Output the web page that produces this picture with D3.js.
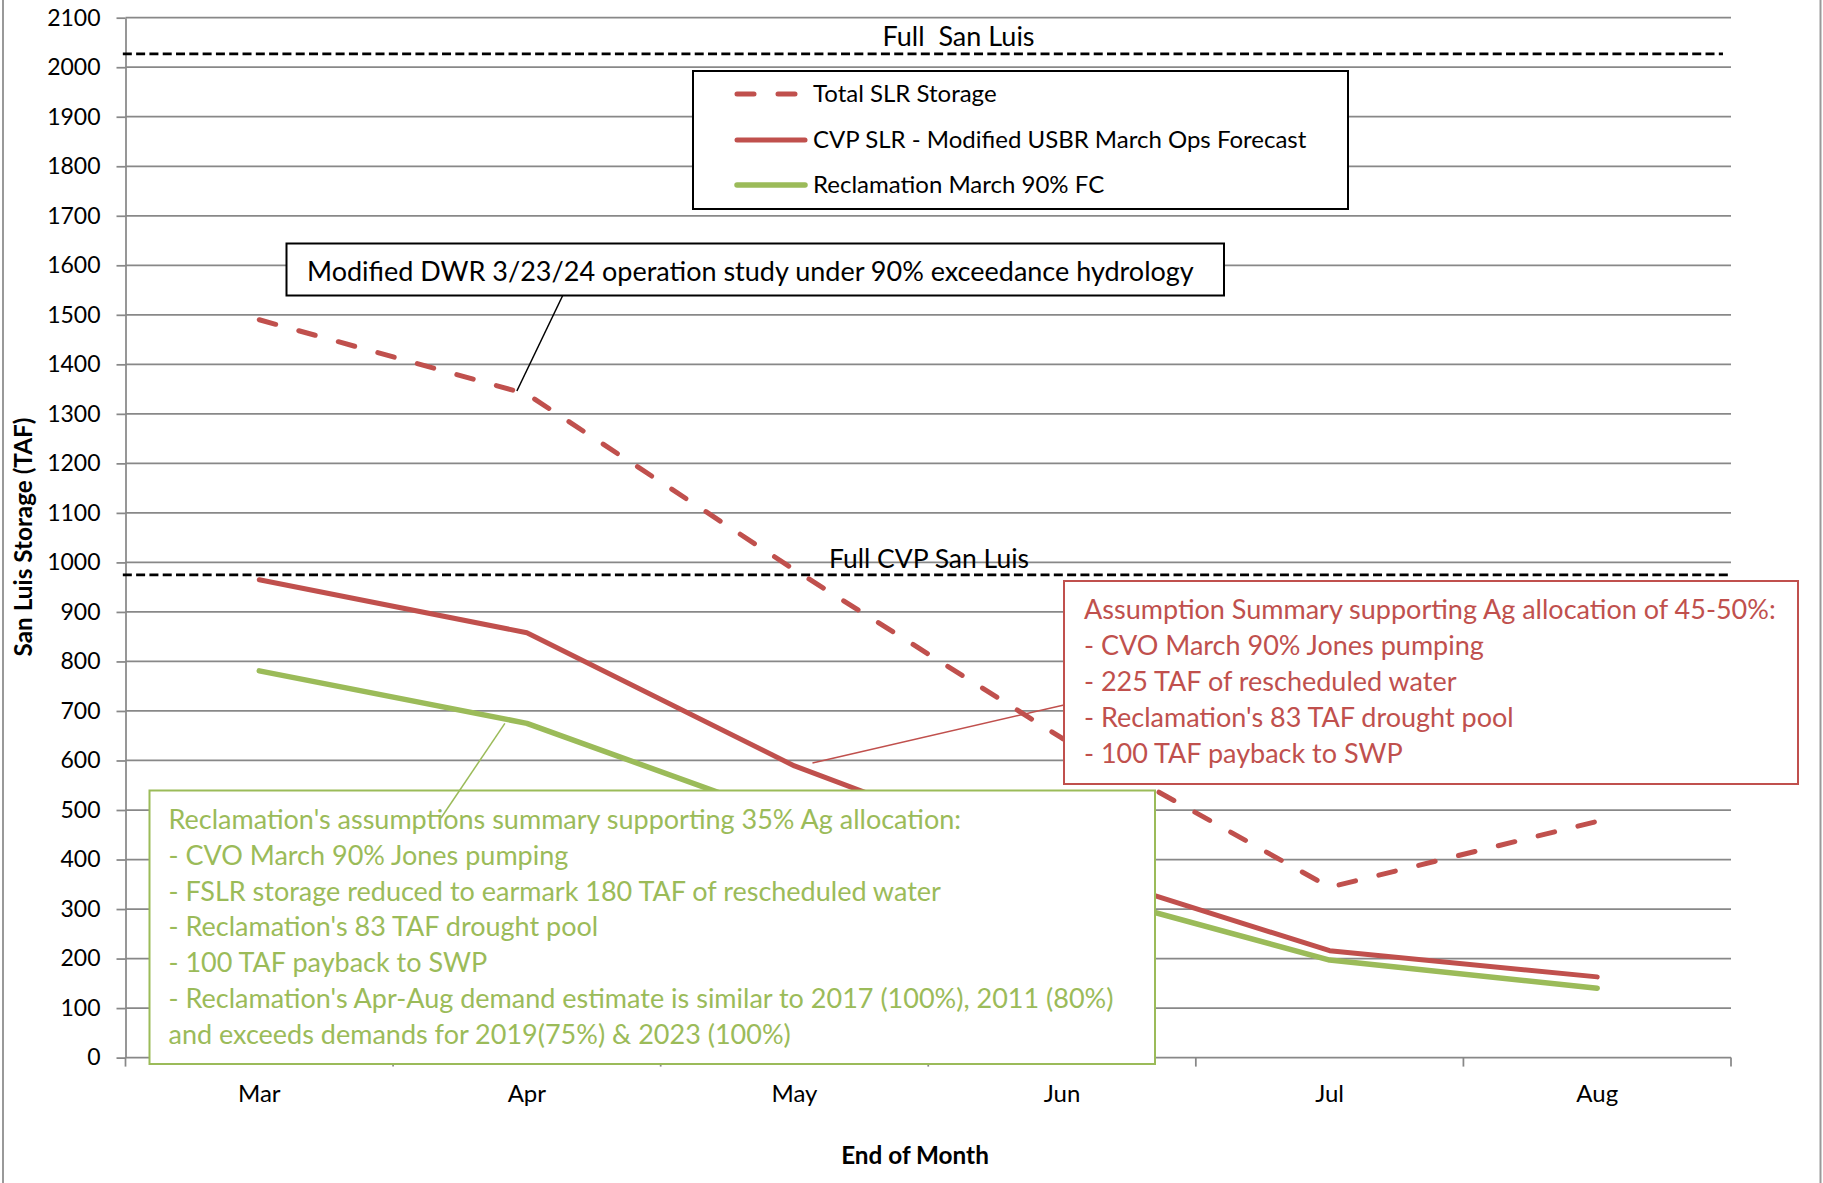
<!DOCTYPE html>
<html>
<head>
<meta charset="utf-8">
<script src="https://cdn.jsdelivr.net/npm/d3@7"></script>
<style>
  body { margin: 0; background: #fff; }
  svg text { font-family: Lato, "Open Sans", sans-serif; white-space: pre; }
</style>
</head>
<body>
<svg id="chart" width="1823" height="1183"></svg>
<script>
// data (TAF, end of month)
const months = ['Mar', 'Apr', 'May', 'Jun', 'Jul', 'Aug'];
const totalSlr = [1490, 1340, 985, 645, 344, 477];
const cvpSlr = [965, 858, 589, 386, 216, 163];
const reclamation = [781, 675, 480, 344, 197, 140];
const yTicks = d3.range(0, 2101, 100);
const fullSanLuis = 2027;
const fullCvpSanLuis = 975;

const seriesNames = ['Total SLR Storage', 'CVP SLR - Modified USBR March Ops Forecast', 'Reclamation March 90% FC'];
const noteDwr = 'Modified DWR 3/23/24 operation study under 90% exceedance hydrology';
const noteRed = [
  'Assumption Summary supporting Ag allocation of 45-50%:',
  '- CVO March 90% Jones pumping',
  '- 225 TAF of rescheduled water',
  "- Reclamation's 83 TAF drought pool",
  '- 100 TAF payback to SWP'
];
const noteGreen = [
  "Reclamation's assumptions summary supporting 35% Ag allocation:",
  '- CVO March 90% Jones pumping',
  '- FSLR storage reduced to earmark 180 TAF of rescheduled water',
  "- Reclamation's 83 TAF drought pool",
  '- 100 TAF payback to SWP',
  "- Reclamation's Apr-Aug demand estimate is similar to 2017 (100%), 2011 (80%)",
  'and exceeds demands for 2019(75%) & 2023 (100%)'
];

const RED = '#C0504D';
const GREEN = '#9BBB59';
const GRID = '#888888';
// font sizes (Lato standing in for Calibri)
const FS_TICK = 23, FS_CAT = 24, FS_TITLE = 24.3, FS_LEGEND = 24, FS_NOTE = 27;

const svg = d3.select('#chart');
const plotL = 125.5, plotR = 1731, plotT = 17.7, plotB = 1057.6;

const x = d3.scaleBand().domain(months).range([plotL, plotR]);
const xc = m => x(m) + x.bandwidth() / 2;
// index based scale, used for the horizontal capacity lines
const xi = d3.scaleLinear().domain([-0.5, 5.5]).range([plotL, plotR]);
const y = d3.scaleLinear().domain([0, 2100]).range([plotB, plotT]);

// outer frame (only the sides show)
svg.append('line').attr('x1', 3).attr('x2', 3).attr('y1', 0).attr('y2', 1183)
  .attr('stroke', '#999').attr('stroke-width', 2);
svg.append('line').attr('x1', 1820.5).attr('x2', 1820.5).attr('y1', 0).attr('y2', 1183)
  .attr('stroke', '#999').attr('stroke-width', 2);

// gridlines
svg.append('g').selectAll('line')
  .data(yTicks.filter(d => d > 0))
  .join('line')
    .attr('x1', plotL).attr('x2', plotR)
    .attr('y1', d => y(d)).attr('y2', d => y(d))
    .attr('stroke', GRID).attr('stroke-width', 1.75);

// y axis
const yAxis = svg.append('g')
  .attr('transform', `translate(${plotL},0)`)
  .call(d3.axisLeft(y).tickValues(yTicks).tickFormat(d3.format('d'))
    .tickSize(9).tickPadding(16).tickSizeOuter(0));
yAxis.select('.domain').attr('stroke', GRID).attr('stroke-width', 1.75);
yAxis.selectAll('.tick line').attr('stroke', GRID).attr('stroke-width', 1.75);
yAxis.selectAll('.tick text')
  .attr('font-family', 'Lato').attr('font-size', FS_TICK).attr('fill', '#000');

// x axis: line, boundary ticks, centred labels
const xAxis = svg.append('g');
xAxis.append('line').attr('x1', plotL).attr('x2', plotR).attr('y1', plotB).attr('y2', plotB)
  .attr('stroke', GRID).attr('stroke-width', 1.75);
xAxis.selectAll('line.tk')
  .data(d3.range(months.length + 1))
  .join('line').attr('class', 'tk')
    .attr('x1', i => xi(i - 0.5)).attr('x2', i => xi(i - 0.5))
    .attr('y1', plotB).attr('y2', plotB + 9)
    .attr('stroke', GRID).attr('stroke-width', 1.75);
xAxis.selectAll('text')
  .data(months)
  .join('text')
    .attr('x', d => xc(d)).attr('y', plotB + 44)
    .attr('text-anchor', 'middle').attr('font-size', FS_CAT).text(d => d);

// axis titles
svg.append('text')
  .attr('transform', `translate(32,537) rotate(-90)`)
  .attr('text-anchor', 'middle').attr('font-size', FS_TITLE).attr('font-weight', 'bold')
  .text('San Luis Storage (TAF)');
svg.append('text')
  .attr('x', 915).attr('y', 1163.5)
  .attr('text-anchor', 'middle').attr('font-size', FS_TITLE).attr('font-weight', 'bold')
  .text('End of Month');

// capacity lines
svg.append('line')
  .attr('x1', xi(-0.51)).attr('x2', xi(5.47))
  .attr('y1', y(fullSanLuis)).attr('y2', y(fullSanLuis))
  .attr('stroke', '#000').attr('stroke-width', 2.8).attr('stroke-dasharray', '9,4.3');
svg.append('text')
  .attr('x', 882.5).attr('y', y(fullSanLuis) - 8)
  .attr('font-size', FS_NOTE).text('Full  San Luis');

svg.append('line')
  .attr('x1', xi(-0.51)).attr('x2', xi(5.495))
  .attr('y1', y(fullCvpSanLuis)).attr('y2', y(fullCvpSanLuis))
  .attr('stroke', '#000').attr('stroke-width', 2.8).attr('stroke-dasharray', '9,4.3');
svg.append('text')
  .attr('x', 829).attr('y', y(fullCvpSanLuis) - 7)
  .attr('font-size', FS_NOTE - 0.5).text('Full CVP San Luis');

// series
const line = d3.line().x((d, i) => xc(months[i])).y(d => y(d));
const series = [
  { values: totalSlr, color: RED, width: 5, dash: '17,24', cap: 'round' },
  { values: cvpSlr, color: RED, width: 5, dash: null, cap: 'round' },
  { values: reclamation, color: GREEN, width: 5.5, dash: null, cap: 'round' }
];
svg.append('g').selectAll('path')
  .data(series)
  .join('path')
    .attr('d', d => line(d.values))
    .attr('fill', 'none')
    .attr('stroke', d => d.color)
    .attr('stroke-width', d => d.width)
    .attr('stroke-linecap', d => d.cap)
    .attr('stroke-linejoin', 'round')
    .attr('stroke-dasharray', d => d.dash);

// legend
const legend = svg.append('g');
legend.append('rect').attr('x', 693).attr('y', 71).attr('width', 655).attr('height', 138)
  .attr('fill', '#fff').attr('stroke', '#000').attr('stroke-width', 2);
const rowY = [94, 140, 185];
series.forEach((s, i) => {
  legend.append('line')
    .attr('x1', 737).attr('x2', 805).attr('y1', rowY[i]).attr('y2', rowY[i])
    .attr('stroke', s.color).attr('stroke-width', s.width)
    .attr('stroke-linecap', s.cap).attr('stroke-dasharray', s.dash);
  legend.append('text')
    .attr('x', 813).attr('y', rowY[i] + 8)
    .attr('font-size', FS_LEGEND).text(seriesNames[i]);
});

// DWR callout
svg.append('line')
  .attr('x1', 562.6).attr('y1', 295.7)
  .attr('x2', xc('Apr') - 10).attr('y2', y(totalSlr[1]) - 3)
  .attr('stroke', '#000').attr('stroke-width', 1.5);
svg.append('rect').attr('x', 286.5).attr('y', 243.5).attr('width', 937.5).attr('height', 52)
  .attr('fill', '#fff').attr('stroke', '#000').attr('stroke-width', 2);
svg.append('text').attr('x', 307).attr('y', 281).attr('font-size', FS_NOTE).text(noteDwr);

// red callout
svg.append('line')
  .attr('x1', xc('May') + 18).attr('y1', y(cvpSlr[2]) - 3)
  .attr('x2', 1064).attr('y2', 705)
  .attr('stroke', RED).attr('stroke-width', 1.5);
svg.append('rect').attr('x', 1064).attr('y', 581).attr('width', 734).attr('height', 203)
  .attr('fill', '#fff').attr('stroke', RED).attr('stroke-width', 2);
svg.append('g').selectAll('text')
  .data(noteRed)
  .join('text')
    .attr('x', 1084).attr('y', (d, i) => 619 + i * 36)
    .attr('font-size', FS_NOTE).attr('fill', RED).text(d => d);

// green callout
svg.append('rect').attr('x', 149.5).attr('y', 790.5).attr('width', 1005.5).attr('height', 273.5)
  .attr('fill', '#fff').attr('stroke', GREEN).attr('stroke-width', 2);
svg.append('line')
  .attr('x1', xc('Apr') - 22).attr('y1', y(reclamation[1]))
  .attr('x2', 441).attr('y2', 818)
  .attr('stroke', GREEN).attr('stroke-width', 1.5);
svg.append('g').selectAll('text')
  .data(noteGreen)
  .join('text')
    .attr('x', 168.5).attr('y', (d, i) => 829 + i * 35.8)
    .attr('font-size', FS_NOTE).attr('fill', GREEN).text(d => d);
</script>
</body>
</html>
